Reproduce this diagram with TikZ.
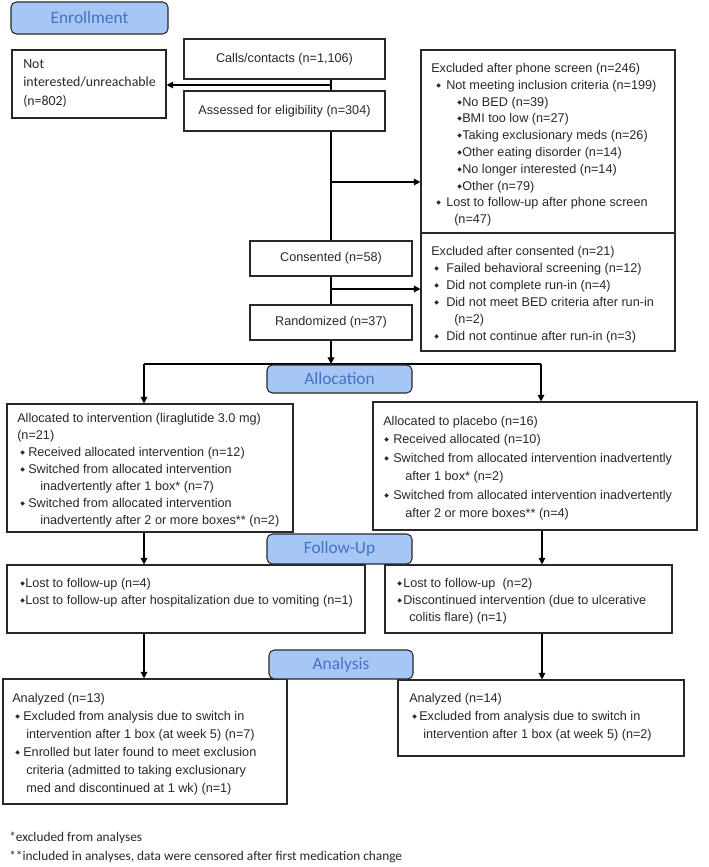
\documentclass[tikz,border=0pt]{standalone}
\usepackage{fontspec}
\setmainfont{Liberation Sans}
\newfontfamily\calfont{Carlito}
\newfontfamily\dejavu{DejaVu Sans}
\usetikzlibrary{arrows.meta,calc}
\newdimen\px \px=0.75pt
\newcommand\dmd{\raisebox{1.4pt}{\dejavu\fontsize{4.5}{5}\selectfont ◆}}
\newcommand\bl[2]{\hspace*{#1\px}\makebox[#2\px][l]{\dmd}}
\newcommand\ind[1]{\hspace*{#1\px}}
% \cbox{style}{name}{x1}{y1}{x2}{y2}{text}
\newcommand\cbox[7]{\node[#1, minimum width={(#5-#3)*0.75pt}, minimum height={(#6-#4)*0.75pt}] (#2) at ({(#3+#5)/2},{(#4+#6)/2}) {#7};}
\definecolor{lblfill}{RGB}{166,198,245}
\definecolor{lbltext}{RGB}{68,114,196}
\definecolor{ink}{RGB}{40,40,40}
\begin{document}
\begin{tikzpicture}[x=0.75pt,y=-0.75pt,
 box/.style={draw=ink, line width=0.8pt, inner sep=0pt, text=ink, font=\fontsize{9.5}{12.8}\selectfont},
 lbl/.style={draw=ink, line width=0.8pt, rounded corners=4pt, fill=lblfill, inner sep=0pt, text=lbltext, font=\calfont\fontsize{13}{15}\selectfont},
 txt/.style={anchor=north west, inner sep=0pt, align=left, text=ink, font=\fontsize{9.5}{12.8}\selectfont},
 arr/.style={draw=black, line width=0.9pt, -{Triangle[length=5pt,width=5pt]}},
 ln/.style={draw=black, line width=0.9pt}]
\useasboundingbox (0,0) rectangle (709,867);

\cbox{lbl}{enr}{11}{2}{168}{34}{Enrollment}
\cbox{box}{notint}{12}{50}{166}{118}{}
\node[txt, font=\calfont\fontsize{10.4}{13.9}\selectfont] (notintt) at (23,59) {Not\\interested/unreachable\\(n=802)};
\cbox{box}{calls}{184}{39}{385}{79}{Calls/contacts (n=1,106)}
\cbox{box}{assess}{184}{91}{385}{131}{Assessed for eligibility (n=304)}
\cbox{box}{exph}{421}{50}{675}{233}{}
\node[txt, font=\fontsize{9.5}{12.6}\selectfont] (expht) at (431,63) {Excluded after phone screen (n=246)\\
 \bl{5}{10}Not meeting inclusion criteria (n=199)\\
 \bl{26}{5}No BED (n=39)\\
 \bl{26}{5}BMI too low (n=27)\\
 \bl{26}{5}Taking exclusionary meds (n=26)\\
 \bl{26}{5}Other eating disorder (n=14)\\
 \bl{26}{5}No longer interested (n=14)\\
 \bl{26}{5}Other (n=79)\\
 \bl{5}{10}Lost to follow-up after phone screen\\
 \ind{23}(n=47)};

\cbox{box}{cons}{250}{241}{412}{276}{Consented (n=58)}
\cbox{box}{rand}{250}{305}{412}{340}{Randomized (n=37)}
\cbox{box}{exco}{421}{233}{675}{351}{}
\node[txt] (excot) at (431,246) {Excluded after consented (n=21)\\
 \bl{3}{12}Failed behavioral screening (n=12)\\
 \bl{3}{12}Did not complete run-in (n=4)\\
 \bl{3}{12}Did not meet BED criteria after run-in\\
 \ind{23}(n=2)\\
 \bl{3}{12}Did not continue after run-in (n=3)};

\cbox{box}{al1}{7}{404}{293}{532}{}
\node[txt] (al1t) at (17,413) {Allocated to intervention (liraglutide 3.0 mg)\\(n=21)\\
 \bl{3}{8}Received allocated intervention (n=12)\\
 \bl{3}{8}Switched from allocated intervention\\
 \ind{23}inadvertently after 1 box* (n=7)\\
 \bl{3}{8}Switched from allocated intervention\\
 \ind{23}inadvertently after 2 or more boxes** (n=2)};

\cbox{box}{al2}{373}{402}{697}{530}{}
\node[txt, font=\fontsize{9.5}{13.8}\selectfont] (al2t) at (383,416) {Allocated to placebo (n=16)\\
 \bl{1}{9}Received allocated (n=10)\\
 \bl{1}{9}Switched from allocated intervention inadvertently\\
 \ind{22}after 1 box* (n=2)\\
 \bl{1}{9}Switched from allocated intervention inadvertently\\
 \ind{22}after 2 or more boxes** (n=4)};

\cbox{box}{fu1}{7}{565}{365}{633}{}
\node[txt] (fu1t) at (20,578) {\bl{0}{5}Lost to follow-up (n=4)\\
 \bl{0}{5}Lost to follow-up after hospitalization due to vomiting (n=1)};
\cbox{box}{fu2}{385}{565}{672}{633}{}
\node[txt] (fu2t) at (397,578) {\bl{0}{6}Lost to follow-up\ \ (n=2)\\
 \bl{0}{6}Discontinued intervention (due to ulcerative\\
 \ind{12}colitis flare) (n=1)};

\cbox{box}{an1}{3}{679}{287}{804}{}
\node[txt, font=\fontsize{9.5}{13.5}\selectfont] (an1t) at (12,693) {Analyzed (n=13)\\
 \bl{3}{8}Excluded from analysis due to switch in\\
 \ind{14}intervention after 1 box (at week 5) (n=7)\\
 \bl{3}{8}Enrolled but later found to meet exclusion\\
 \ind{14}criteria (admitted to taking exclusionary\\
 \ind{14}med and discontinued at 1 wk) (n=1)};
\cbox{box}{an2}{398}{680}{684}{756}{}
\node[txt, font=\fontsize{9.5}{13.5}\selectfont] (an2t) at (409,693) {Analyzed (n=14)\\
 \bl{3}{7}Excluded from analysis due to switch in\\
 \ind{14}intervention after 1 box (at week 5) (n=2)};

\node[txt, font=\calfont\fontsize{10}{14.25}\selectfont] (fn) at (9,832) {*excluded from analyses\\**included in analyses, data were censored after first medication change};

% connectors
\coordinate (vx) at (331,0);
\draw[ln] (calls.south -| vx) -- (assess.north -| vx);
\coordinate (j1) at (331,85);
\draw[arr] (j1) -- (j1 -| notint.east);
\draw[ln] (assess.south -| vx) -- (cons.north -| vx);
\coordinate (j2) at (331,182);
\draw[arr] (j2) -- (j2 -| exph.west);
\draw[ln] (cons.south -| vx) -- (rand.north -| vx);
\coordinate (j3) at (331,289);
\draw[arr] (j3) -- (j3 -| exco.west);
\coordinate (sp) at (331,364);
\draw[arr] (rand.south -| vx) -- (sp);
\coordinate (sL) at (144,364);
\coordinate (sR) at (541,364);
\draw[ln] (sL) -- (sR);
\draw[arr] (sL) -- (sL |- al1.north);
\draw[arr] (sR) -- (sR |- al2.north);
\coordinate (xL) at (144,0);
\coordinate (xR) at (542,0);
\draw[arr] (al1.south -| xL) -- (fu1.north -| xL);
\draw[arr] (al2.south -| xR) -- (fu2.north -| xR);
\draw[arr] (fu1.south -| xL) -- (an1.north -| xL);
\draw[arr] (fu2.south -| xR) -- (an2.north -| xR);

\cbox{lbl}{alloc}{267}{365}{412}{393}{Allocation}
\cbox{lbl}{fu}{267}{534}{412}{564}{Follow-Up}
\cbox{lbl}{anl}{269}{650}{413}{679}{Analysis}
\end{tikzpicture}
\end{document}
